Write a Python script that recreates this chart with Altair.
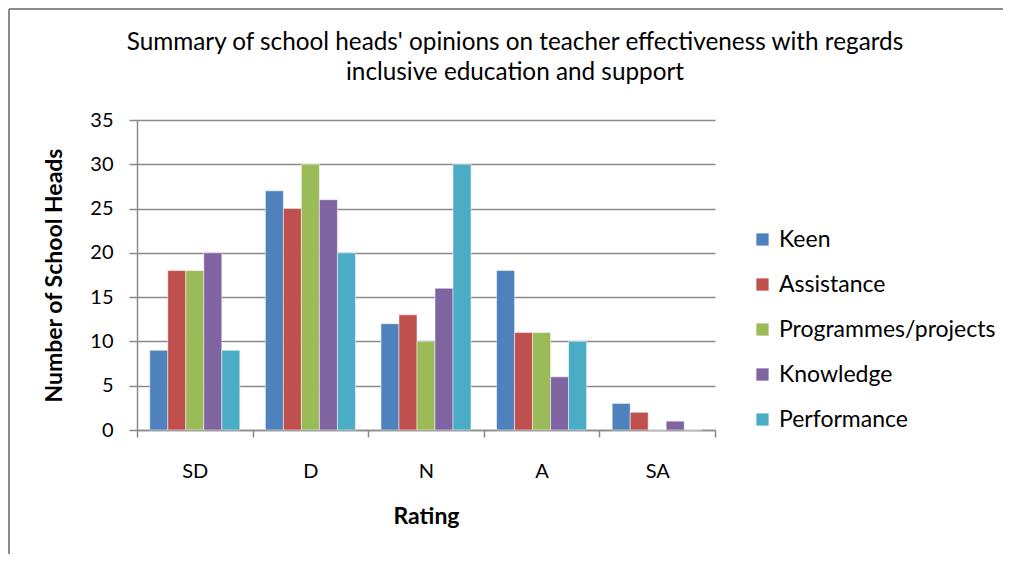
import altair as alt
import pandas as pd

categories = ["SD", "D", "N", "A", "SA"]
series = ["Keen", "Assistance", "Programmes/projects", "Knowledge", "Performance"]
keen = [9, 27, 12, 18, 3]
assistance = [18, 25, 13, 11, 2]
programmes = [18, 30, 10, 11, 0]
knowledge = [20, 26, 16, 6, 1]
performance = [9, 20, 30, 10, 0]
colors = ["#4F81BD", "#C0504D", "#9BBB59", "#8064A2", "#4BACC6"]
title_lines = ["Summary of school heads' opinions on teacher effectiveness with regards",
               "inclusive education and support"]

rows = []
for s, vals in zip(series, [keen, assistance, programmes, knowledge, performance]):
    for c, v in zip(categories, vals):
        rows.append({"Rating": c, "Series": s, "Value": v})
df = pd.DataFrame(rows)

FONT = "Lato"
GRAY = "#8a8a8a"

bars = alt.Chart(df).mark_bar(stroke="white", strokeWidth=0.7, strokeOpacity=0.7).encode(
    x=alt.X("Rating:N", sort=categories,
            scale=alt.Scale(paddingInner=0, paddingOuter=0),
            axis=alt.Axis(title="Rating", tickBand="extent", labelAngle=0,
                          labelFont=FONT, labelFontSize=20, labelColor="black",
                          labelPadding=24, tickSize=7, tickColor=GRAY, tickWidth=1.5,
                          domainColor=GRAY, domainWidth=1.5,
                          titleFont=FONT, titleFontSize=23, titleFontWeight="bold",
                          titleColor="black", titlePadding=24, grid=False)),
    xOffset=alt.XOffset("Series:N", sort=series,
                        scale=alt.Scale(paddingInner=0, paddingOuter=0.71)),
    y=alt.Y("Value:Q", scale=alt.Scale(domain=[0, 35]),
            axis=alt.Axis(title="Number of School  Heads", values=list(range(0, 36, 5)),
                          labelFont=FONT, labelFontSize=20, labelColor="black",
                          labelPadding=16, tickSize=8, tickColor=GRAY, tickWidth=1.5,
                          domainColor=GRAY, domainWidth=1.5,
                          gridColor=GRAY, gridWidth=1.5,
                          titleFont=FONT, titleFontSize=23, titleFontWeight="bold",
                          titleColor="black", titlePadding=23)),
    color=alt.Color("Series:N", sort=series,
                    scale=alt.Scale(domain=series, range=colors),
                    legend=alt.Legend(title=None, orient="none", legendX=614, legendY=108,
                                      symbolType="square", symbolSize=150,
                                      symbolStrokeWidth=0, labelLimit=0,
                                      labelFont=FONT, labelFontSize=23, labelColor="black",
                                      rowPadding=21, labelOffset=5)),
)

one = pd.DataFrame({"a": [0]})
title = alt.Chart(one).mark_text(
    text=title_lines, font=FONT, fontSize=24.3, color="black",
    lineHeight=30, align="center", baseline="middle").encode(
    x=alt.value(378), y=alt.value(-77))

border = alt.Chart(one).mark_rule(color=GRAY, strokeWidth=2).encode(
    x=alt.value(-128), x2=alt.value(870), y=alt.value(-111))
border2 = alt.Chart(one).mark_rule(color=GRAY, strokeWidth=2).encode(
    x=alt.value(-128), y=alt.value(-111), y2=alt.value(440))

chart = alt.layer(bars, title, border, border2).properties(
    width=578, height=310,
    autosize=alt.AutoSizeParams(type="none"),
    padding={"left": 129, "top": 112, "right": 288, "bottom": 124},
).configure_view(stroke=None)

chart.save("out.html", embed_options={"renderer": "svg", "actions": False})
